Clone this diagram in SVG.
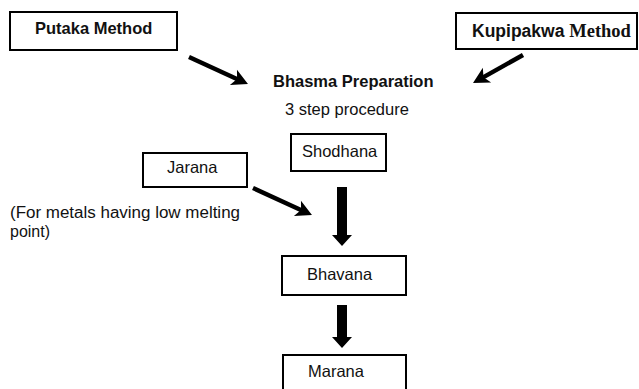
<svg xmlns="http://www.w3.org/2000/svg" width="639" height="389" viewBox="0 0 639 389">
<style>
.box{fill:#fff;stroke:#000;stroke-width:2}
.t{font-family:"Liberation Sans",Arial,sans-serif;font-size:16.5px;fill:#111}
.b{font-weight:bold}
.n{font-size:16px}
.conn{stroke:#000;stroke-width:4.5;fill:none;marker-end:url(#ah)}
</style>
<defs>
<marker id="ah" markerUnits="userSpaceOnUse" viewBox="-2 -10 22 20" markerWidth="22" markerHeight="20" refX="8" refY="0" orient="auto">
<path d="M0,-8.5 L16,0 L0,8.5 L4,0 Z" fill="#000"/>
</marker>
</defs>
<rect width="639" height="389" fill="#fff"/>
<g id="putaka">
<rect class="box" x="10" y="12" width="167" height="38"/>
<text class="t b" x="35" y="34">Putaka Method</text>
</g>
<g id="kupipakwa">
<rect class="box" x="456" y="13" width="181" height="36"/>
<text x="472" y="37" style="font-weight:bold;font-size:17.5px;fill:#111"><tspan font-family="Liberation Sans, Arial, sans-serif">Kupipakwa </tspan><tspan font-family="Liberation Serif, Times New Roman, serif" font-size="18.5px">Method</tspan></text>
</g>
<g id="bhasma">
<text class="t b" x="273" y="87">Bhasma Preparation</text>
<text class="t" x="285" y="115">3 step procedure</text>
</g>
<g id="shodhana">
<rect class="box" x="291" y="134" width="95" height="37"/>
<text class="t" x="302" y="157">Shodhana</text>
</g>
<g id="jarana">
<rect class="box" x="143" y="153" width="104" height="34"/>
<text class="t" x="167" y="173">Jarana</text>
</g>
<g id="note">
<text class="t n" x="10" y="218" textLength="230" lengthAdjust="spacingAndGlyphs">(For metals having low melting</text>
<text class="t n" x="10" y="237">point)</text>
</g>
<g id="bhavana">
<rect class="box" x="282" y="256" width="124" height="39"/>
<text class="t" x="307" y="280">Bhavana</text>
</g>
<g id="marana">
<rect class="box" x="283" y="355" width="123" height="40"/>
<text class="t" x="308" y="377">Marana</text>
</g>
<g id="connectors">
<line class="conn" x1="189" y1="57" x2="240.7" y2="80.7"/>
<line class="conn" x1="523" y1="55" x2="480" y2="79.1"/>
<line class="conn" x1="253" y1="188" x2="304.7" y2="211.7"/>
<polygon points="337,187 347,187 347,235 352,235 342,246 332,235 337,235" fill="#000"/>
<polygon points="337,305 347,305 347,337 352,337 342,348 332,337 337,337" fill="#000"/>
</g>
</svg>
